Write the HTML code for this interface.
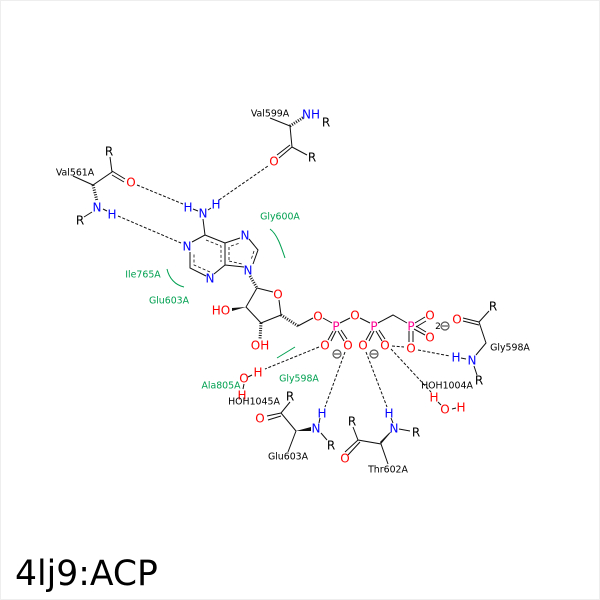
<!DOCTYPE html>
<html><head><meta charset="utf-8">
<style>
html,body{margin:0;padding:0;background:#fff}
svg{display:block}
text{font-family:"DejaVu Sans",sans-serif;text-anchor:middle;dominant-baseline:central}
.l{font-size:9.4px;fill:#000;transform:translateY(1px)}
.g{font-size:9.4px;fill:#00a050;transform:translateY(1px)}
.a{font-size:12px}
.a text{transform:translateY(.6px)}
.n{fill:#0000ff}.o{fill:#ff0000}.p{fill:#ff0090}.k{fill:#000}
.b{stroke:#111;stroke-width:1;fill:none}
.d{stroke:#111;stroke-width:1;fill:none;stroke-dasharray:3 1.7}
.i{stroke:#111;stroke-width:.8;fill:none;stroke-dasharray:3 2}
.h{stroke:#111;fill:none;stroke-dasharray:1 1.4;stroke-width:3}
.arc{stroke:#00a050;stroke-width:1;fill:none}
</style></head><body>
<svg width="600" height="600" viewBox="0 0 600 600" xmlns="http://www.w3.org/2000/svg">
<rect x="0.5" y="0.5" width="599" height="599" fill="#fff" stroke="#eee"/>

<!-- hbonds -->
<path class="d" d="M137 185L183 204M219 200L268 166M118 216L181 243M345 352L325 407M366 352L387 407M319 347L265 369M391 349L431 392M392 346L404 347M418 350L450 356"/>
<!-- short X-H bonds -->
<path class="b" d="M248 377L252 375M452 409L456 408M244 384L243 389M438 402L441 405M193 209L198 211M208 210L211 208M319 423L320 418M391 418L393 423M461 358L466 359M103 209L107 211"/>

<!-- green arcs -->
<path class="arc" d="M270 229C277 234 281 246 285 258"/>
<path class="arc" d="M167 269C169 278 175 285 184 287"/>
<path class="arc" d="M277 358L295 347"/>

<!-- adenine -->
<path class="b" d="M203 219L205 235L225 243V265L214 274M206 276L190 268V252M192 242L205 235M225 243L240 238M249 239L258 250L253 264M244 267L225 265"/>
<path class="i" d="M206 240L221 246V262M210 272L194 265V254M229 247V261M231 246L240 243M229 261L242 264M254 251L251 260"/>

<!-- ribose -->
<path class="b" d="M257 288L273 292M279 300L281 315L261 323L246 307L257 288"/>
<path class="h" d="M250 276L257 288"/>
<path class="h" d="M281 315L298 326"/>
<path class="h" d="M261 323L260 339"/>
<polygon points="246,307 232,308 232,311" fill="#111"/>
<path class="b" d="M298 326L313 318M323 318L332 323"/>

<!-- phosphates -->
<path class="b" d="M340 323L350 318M360 318L370 323M378 323L393 315L407 323M415 323L425 317M416 327L426 321M414 329L425 335M416 326L426 332M409 331V342M413 331V342"/>
<path class="b" d="M333 331L328 340M336 331L331 341M338 331L344 341M341 330L347 339M371 331L366 340M374 331L369 341M376 331L382 341M379 330L385 339"/>

<!-- Val561A -->
<path class="b" d="M73 176L93 185L112 172L110 157M112 171L125 179M112 175L124 182M92 212L84 217"/>
<path class="h" d="M93 185L97 201"/>
<!-- Val599A -->
<path class="b" d="M270 118L290 126L292 147L307 155M292 147L279 158M290 145L277 155"/>
<path class="h" d="M290 126L304 117"/>
<!-- Glu603A -->
<path class="b" d="M290 402L281 413L296 431L288 452M281 413L267 416M281 416L268 420"/>
<polygon points="296,431 311,427 311,431" fill="#111"/>
<path class="b" d="M321 433L327 440"/>
<!-- Thr602A -->
<path class="b" d="M353 427L358 440L381 444L388 464M358 440L345 452M360 442L348 455M399 429L410 431"/>
<polygon points="381,444 392,431 389,433 380,442" fill="#111"/>
<!-- Gly598A -->
<path class="b" d="M463 318L479 322M463 321L479 325M479 322L489 311M479 322L486 343L476 355M474 366L477 375"/>

<!-- atom labels -->
<g class="a">
<text class="o" x="131" y="182">O</text>
<text class="k" x="109" y="151">R</text>
<text class="n" x="97" y="207">N</text>
<text class="n" x="112" y="214">H</text>
<text class="k" x="80" y="220">R</text>
<text class="n" x="311" y="114">NH</text>
<text class="k" x="326" y="122">R</text>
<text class="k" x="312" y="157">R</text>
<text class="o" x="274" y="161">O</text>
<text class="n" x="188" y="207">H</text>
<text class="n" x="216" y="204">H</text>
<text class="n" x="203" y="213">N</text>
<text class="n" x="187" y="246">N</text>
<text class="n" x="245" y="235">N</text>
<text class="n" x="248" y="270">N</text>
<text class="n" x="210" y="278">N</text>
<text class="o" x="278" y="294">O</text>
<text class="o" x="221" y="310">HO</text>
<text class="o" x="260" y="345">OH</text>
<text class="o" x="318" y="316">O</text>
<text class="o" x="355" y="315">O</text>
<text class="p" x="336" y="326">P</text>
<text class="p" x="374" y="326">P</text>
<text class="p" x="411" y="326">P</text>
<text class="o" x="325" y="345">O</text>
<text class="o" x="348" y="345">O</text>
<text class="o" x="363" y="345">O</text>
<text class="o" x="385" y="345">O</text>
<text class="o" x="430" y="315">O</text>
<text class="o" x="430" y="337">O</text>
<text class="o" x="411" y="348">O</text>
<text class="o" x="457" y="319">O</text>
<text class="k" x="493" y="306">R</text>
<text class="n" x="472" y="360">N</text>
<text class="n" x="456" y="357">H</text>
<text class="k" x="479" y="380">R</text>
<text class="o" x="434" y="397">H</text>
<text class="o" x="445" y="409">O</text>
<text class="o" x="461" y="407">H</text>
<text class="o" x="258" y="372">H</text>
<text class="o" x="244" y="378">O</text>
<text class="o" x="242" y="395">H</text>
<text class="k" x="290" y="396">R</text>
<text class="o" x="260" y="418">O</text>
<text class="n" x="316" y="428">N</text>
<text class="n" x="322" y="413">H</text>
<text class="k" x="331" y="445">R</text>
<text class="k" x="352" y="421">R</text>
<text class="o" x="345" y="458">O</text>
<text class="n" x="394" y="428">N</text>
<text class="n" x="389" y="413">H</text>
<text class="k" x="416" y="432">R</text>
</g>

<!-- charges -->
<g stroke="#555" fill="none" stroke-width="1.2">
<circle cx="337" cy="354" r="4"/><path d="M334 354H340"/>
<circle cx="374" cy="354" r="4"/><path d="M371 354H377"/>
<circle cx="445" cy="326" r="4"/><path d="M442 326H448"/>
</g>
<text class="k" x="438" y="327" style="font-size:9px">2</text>

<!-- residue labels -->
<text class="l" x="75" y="172">Val561A</text>
<text class="l" x="270" y="113">Val599A</text>
<text class="l" x="510" y="347">Gly598A</text>
<text class="l" x="447" y="385">HOH1004A</text>
<text class="l" x="254" y="401">HOH1045A</text>
<text class="l" x="288" y="456">Glu603A</text>
<text class="l" x="388" y="469">Thr602A</text>
<text class="g" x="280" y="216">Gly600A</text>
<text class="g" x="143" y="274">Ile765A</text>
<text class="g" x="169" y="300">Glu603A</text>
<text class="g" x="221" y="385">Ala805A</text>
<text class="g" x="299" y="378">Gly598A</text>

<text x="15" y="585" style="font-size:34.6px;text-anchor:start;dominant-baseline:auto;fill:#000">4lj9:ACP</text>
</svg>
</body></html>
